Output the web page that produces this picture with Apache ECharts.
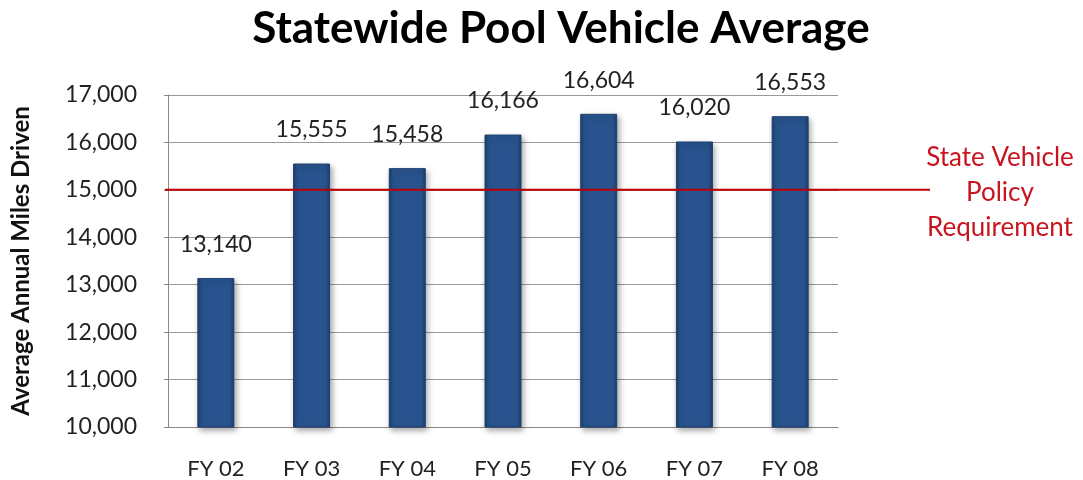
<!DOCTYPE html>
<html><head><meta charset="utf-8">
<script src="https://cdn.jsdelivr.net/npm/echarts@6/dist/echarts.min.js"></script>
<style>html,body{margin:0;padding:0;background:#fff}#c{width:1083px;height:480px}</style>
</head><body><div id="c"></div>
<script>
const categories = ['FY 02','FY 03','FY 04','FY 05','FY 06','FY 07','FY 08'];
const milesDriven = [13140, 15555, 15458, 16166, 16604, 16020, 16553];
const policyRequirement = 15000;
const policyLabel = 'State Vehicle\nPolicy\nRequirement';
const yTicks = {min: 10000, max: 17000, interval: 1000};

const chart = echarts.init(document.getElementById('c'));
const font = 'Lato, "Open Sans", sans-serif';
chart.setOption({
  animation: false,
  title: {text: 'Statewide Pool Vehicle Average', left: 556, top: 2, textAlign: 'center',
    textStyle: {fontFamily: font, fontWeight: 'bold', fontSize: 44, color: '#000'}},
  grid: {left: 168, right: 245, top: 95, bottom: 53},
  xAxis: {type: 'category', data: categories,
    axisLine: {lineStyle: {color: '#888'}}, axisTick: {show: false},
    axisLabel: {margin: 31, fontFamily: font, fontSize: 22, color: '#222'}},
  yAxis: {type: 'value', min: yTicks.min, max: yTicks.max, interval: yTicks.interval,
    name: 'Average Annual Miles Driven', nameLocation: 'middle', nameGap: 135,
    nameTextStyle: {fontFamily: font, fontWeight: 'bold', fontSize: 24, color: '#111'},
    axisLine: {show: true, lineStyle: {color: '#888'}},
    axisTick: {show: true, length: 4, lineStyle: {color: '#888'}},
    splitLine: {lineStyle: {color: '#999'}},
    axisLabel: {margin: 31, fontFamily: font, fontSize: 23, color: '#222',
      formatter: v => v.toLocaleString('en-US')}},
  series: [{type: 'bar', data: milesDriven, barWidth: 37,
    itemStyle: {color: new echarts.graphic.LinearGradient(0,0,1,0,[
      {offset:0,color:'#1b3d6c'},{offset:0.12,color:'#28538e'},{offset:0.88,color:'#28538e'},{offset:1,color:'#1b3d6c'}]),
      borderColor: '#1e4170', borderWidth: 1,
      shadowColor: 'rgba(0,0,0,0.35)', shadowBlur: 6, shadowOffsetX: 2, shadowOffsetY: 3},
    label: {show: true, position: 'top', distance: 22, fontFamily: font, fontSize: 23, color: '#222',
      formatter: p => p.value.toLocaleString('en-US')}}]
});
const y = chart.convertToPixel({yAxisIndex: 0}, policyRequirement);
chart.setOption({graphic: [
  {type: 'line', shape: {x1: 165, y1: y, x2: 930, y2: y}, style: {stroke: '#c00000', lineWidth: 2}, z: 10},
  {type: 'text', x: 1000, y: 193, style: {text: policyLabel, fill: '#c8141e', font: '26px ' + font,
    textAlign: 'center', textVerticalAlign: 'middle', lineHeight: 35}}
]});
</script></body></html>
